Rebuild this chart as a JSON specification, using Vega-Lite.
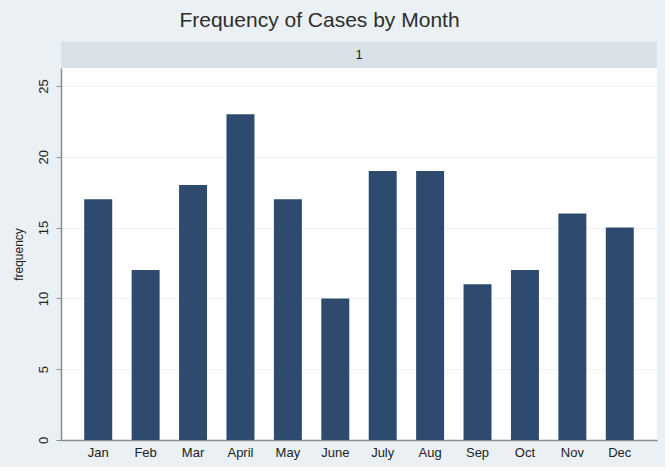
{
  "$schema": "https://vega.github.io/schema/vega-lite/v6.json",
  "background": "#EAF0F3",
  "padding": {"left": 12, "top": 10, "right": 8, "bottom": 8},
  "title": {"text": "Frequency of Cases by Month", "fontSize": 21, "font": "Liberation Sans", "fontWeight": "normal", "color": "#2E2E2E", "anchor": "middle", "offset": 11, "dx": -15},
  "spacing": 0,
  "config": {"font": "Liberation Sans", "view": {"stroke": null}},
  "vconcat": [
    {
      "width": 596,
      "height": 26,
      "view": {"fill": "#D9E2E8", "stroke": null},
      "data": {"values": [{"strip": "1"}]},
      "mark": {"type": "text", "fontSize": 13, "font": "Liberation Sans", "color": "#222222"},
      "encoding": {"text": {"field": "strip"}}
    },
    {
      "width": 596,
      "height": 372,
      "view": {"fill": "#FFFFFF", "stroke": null},
      "data": {"values": [
        {"month": "Jan", "frequency": 17},
        {"month": "Feb", "frequency": 12},
        {"month": "Mar", "frequency": 18},
        {"month": "April", "frequency": 23},
        {"month": "May", "frequency": 17},
        {"month": "June", "frequency": 10},
        {"month": "July", "frequency": 19},
        {"month": "Aug", "frequency": 19},
        {"month": "Sep", "frequency": 11},
        {"month": "Oct", "frequency": 12},
        {"month": "Nov", "frequency": 16},
        {"month": "Dec", "frequency": 15}
      ]},
      "mark": {"type": "bar", "color": "#2E4A6E"},
      "encoding": {
        "x": {
          "field": "month", "type": "nominal", "sort": null,
          "scale": {"paddingInner": 0.41, "paddingOuter": 0.49},
          "axis": {"title": null, "labelAngle": 0, "ticks": false, "labelPadding": 6, "labelFontSize": 13, "labelColor": "#222222", "domainColor": "#8A8A8A", "domainWidth": 1.5}
        },
        "y": {
          "field": "frequency", "type": "quantitative",
          "scale": {"domain": [0, 26.27], "nice": false},
          "axis": {"values": [0, 5, 10, 15, 20, 25], "labelAngle": -90, "labelAlign": "center", "labelBaseline": "bottom", "labelPadding": 6, "tickSize": 5, "tickColor": "#8A8A8A", "labelFontSize": 13, "labelColor": "#222222", "domainColor": "#8A8A8A", "domainWidth": 1.5, "gridColor": "#EEF2F4", "title": "frequency", "titleFontSize": 12, "titleFontWeight": "normal", "titleColor": "#222222", "titlePadding": 12}
        }
      }
    }
  ]
}
